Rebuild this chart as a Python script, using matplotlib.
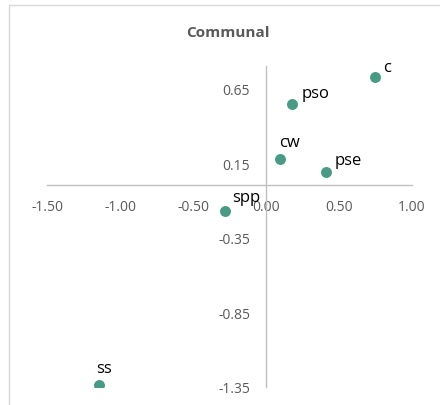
import matplotlib
matplotlib.use("Agg")
import matplotlib.pyplot as plt
from matplotlib.patches import Rectangle

names = ["c", "pso", "cw", "pse", "spp", "ss"]
x_vals = [0.747, 0.178, 0.096, 0.411, -0.283, -1.146]
y_vals = [0.724, 0.543, 0.179, 0.090, -0.170, -1.335]
label_offsets = [(5.8, 4.5), (7.2, 5), (-0.7, 9), (6, 5.8), (5.3, 7.2), (-2, 9)]
x_ticks = [-1.5, -1.0, -0.5, 0.0, 0.5, 1.0]
y_ticks = [0.65, 0.15, -0.35, -0.85, -1.35]
title = "Communal"

plt.rcParams['font.family'] = ['Open Sans', 'DejaVu Sans']

fig = plt.figure(figsize=(4.4, 4.06), dpi=100)
fig.patches.append(Rectangle((9/440, -0.1), 1.2, 1 - 6/406 + 0.1, transform=fig.transFigure,
                             fill=False, edgecolor='#d9d9d9', linewidth=1.0))
ax = fig.add_axes([47/440, 18/406, 365/440, 321/406])
ax.set_xlim(-1.5, 1.0)
ax.set_ylim(-1.35, 0.80)

ax.scatter(x_vals, y_vals, s=62, color='#479a83', zorder=3, linewidths=0)
for n, x, y, (dx, dy) in zip(names, x_vals, y_vals, label_offsets):
    ax.annotate(n, (x, y), xytext=(dx, dy), textcoords='offset points',
                fontsize=12, color='#000000', ha='left', va='baseline')

for s in ['top', 'right']:
    ax.spines[s].set_visible(False)
ax.spines['left'].set_position(('data', 0))
ax.spines['bottom'].set_position(('data', 0))
for s in ['left', 'bottom']:
    ax.spines[s].set_color('#bfbfbf')
    ax.spines[s].set_linewidth(1.0)

ax.set_xticks(x_ticks)
ax.set_xticklabels([f"{v:.2f}" for v in x_ticks])
ax.set_yticks(y_ticks)
ax.set_yticklabels([f"{v:.2f}" for v in y_ticks])
ax.tick_params(axis='x', length=0, pad=10, labelsize=10, labelcolor='#595959')
ax.tick_params(axis='y', length=0, pad=11.5, labelsize=10, labelcolor='#595959')
ax.patch.set_visible(False)

fig.text(228/440, 1 - 33/406, title, ha='center', va='center', fontsize=11,
         fontweight='bold', color='#595959')

fig.savefig("out.png", dpi=100)
